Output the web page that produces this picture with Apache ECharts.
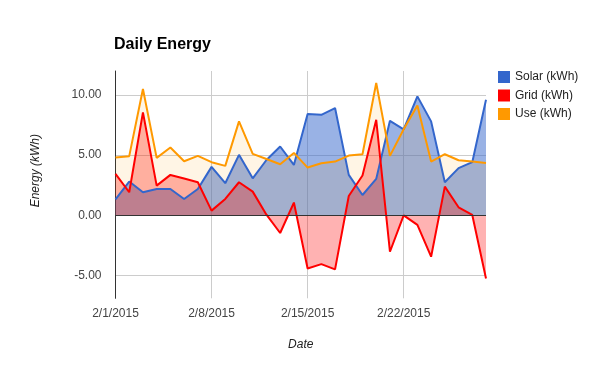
<!DOCTYPE html>
<html>
<head>
<meta charset="utf-8">
<script src="https://cdn.jsdelivr.net/npm/echarts@6/dist/echarts.min.js"></script>
<style>
html,body{margin:0;padding:0;background:#fff;}
#chart{width:600px;height:371px;}
</style>
</head>
<body>
<div id="chart"></div>
<script>
const dates = ["2/1/2015","2/2/2015","2/3/2015","2/4/2015","2/5/2015","2/6/2015","2/7/2015",
  "2/8/2015","2/9/2015","2/10/2015","2/11/2015","2/12/2015","2/13/2015","2/14/2015",
  "2/15/2015","2/16/2015","2/17/2015","2/18/2015","2/19/2015","2/20/2015","2/21/2015",
  "2/22/2015","2/23/2015","2/24/2015","2/25/2015","2/26/2015","2/27/2015","2/28/2015"];
const solar = [1.33, 2.81, 1.92, 2.19, 2.19, 1.36, 2.19, 4.03, 2.67, 5.03, 3.08, 4.60, 5.72, 4.19,
  8.42, 8.36, 8.92, 3.36, 1.69, 3.03, 7.86, 7.15, 9.89, 7.81, 2.75, 3.92, 4.42, 9.61];
const grid = [3.44, 1.92, 8.56, 2.47, 3.36, 3.06, 2.75, 0.39, 1.36, 2.75, 1.97, 0.05, -1.47, 1.06,
  -4.42, -4.06, -4.50, 1.61, 3.31, 7.94, -3.03, 0.00, -0.80, -3.44, 2.39, 0.67, 0.03, -5.25];
const use = [4.81, 4.92, 10.50, 4.78, 5.64, 4.50, 4.94, 4.42, 4.11, 7.81, 5.11, 4.68, 4.25, 5.19,
  3.97, 4.33, 4.47, 4.97, 5.08, 11.00, 4.94, 7.15, 9.14, 4.47, 5.08, 4.58, 4.47, 4.36];
const seriesNames = ["Solar (kWh)", "Grid (kWh)", "Use (kWh)"];
const yMin = -6.9, yMax = 12;

const FONT = "Arial, 'Liberation Sans', sans-serif";
const chart = echarts.init(document.getElementById('chart'), null, {renderer: 'canvas'});

function lineSeries(name, data, color, opacity) {
  return {
    name: name, type: 'line', data: data,
    symbol: 'none', showSymbol: false,
    lineStyle: {color: color, width: 2},
    itemStyle: {color: color},
    areaStyle: {color: color, opacity: opacity},
    emphasis: {disabled: true},
    animation: false
  };
}

const s3 = lineSeries(seriesNames[2], use, '#ff9900', 0.1);
s3.markLine = {
  silent: true, symbol: ['none', 'none'], animation: false,
  label: {show: false},
  lineStyle: {color: '#333', width: 1, type: 'solid'},
  data: [{yAxis: 0}]
};

chart.setOption({
  backgroundColor: '#fff',
  animation: false,
  textStyle: {fontFamily: FONT},
  title: {
    text: 'Daily Energy', left: 114, top: 37, padding: 0,
    textStyle: {fontFamily: FONT, fontSize: 16, fontWeight: 'bold', color: '#000'}
  },
  legend: {
    orient: 'vertical', left: 498, top: 71, padding: 0,
    itemWidth: 12, itemHeight: 12, itemGap: 6.5, icon: 'rect',
    textStyle: {fontFamily: FONT, fontSize: 12, color: '#222'},
    data: seriesNames
  },
  grid: {left: 115.5, right: 114, top: 71, bottom: 72.7, containLabel: false},
  xAxis: {
    type: 'category', data: dates, boundaryGap: false,
    name: 'Date', nameLocation: 'middle', nameGap: 40,
    nameTextStyle: {fontFamily: FONT, fontSize: 12, fontStyle: 'italic', color: '#222'},
    axisLine: {show: false},
    axisTick: {show: false},
    axisLabel: {interval: 6, margin: 9, fontFamily: FONT, fontSize: 12, color: '#444'},
    splitLine: {show: true, interval: 6, lineStyle: {color: '#ccc', width: 1}}
  },
  yAxis: {
    type: 'value', min: yMin, max: yMax, splitNumber: 4,
    name: 'Energy (kWh)', nameLocation: 'middle', nameGap: 74,
    nameTextStyle: {fontFamily: FONT, fontSize: 12, fontStyle: 'italic', color: '#222', padding: [0, 0, 0, 28]},
    axisLine: {show: true, lineStyle: {color: '#333', width: 1}},
    axisTick: {show: false},
    axisLabel: {
      margin: 14, fontFamily: FONT, fontSize: 12, color: '#444',
      showMinLabel: false, showMaxLabel: false,
      formatter: v => v.toFixed(2)
    },
    splitLine: {show: true, showMinLine: false, showMaxLine: false, lineStyle: {color: '#ccc', width: 1}}
  },
  series: [
    lineSeries(seriesNames[0], solar, '#3366cc', 0.5),
    lineSeries(seriesNames[1], grid, '#ff0000', 0.3),
    s3
  ]
});
</script>
</body>
</html>
